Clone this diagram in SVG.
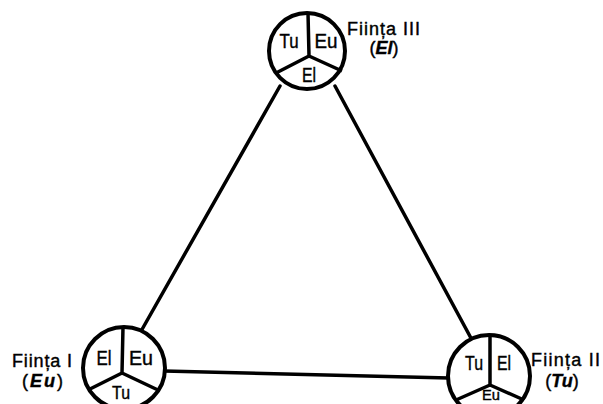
<svg xmlns="http://www.w3.org/2000/svg" width="603" height="404" viewBox="0 0 603 404">
<style>
.ring{fill:#fff;stroke:#000;stroke-width:4}
.div{fill:none;stroke:#000;stroke-width:3.5;stroke-linejoin:round}
.edge{stroke:#000;stroke-width:3.5;stroke-linecap:round}
.in{font-family:"Liberation Sans",Arial,sans-serif;font-size:20px;fill:#000;text-anchor:middle;stroke:#000;stroke-width:0.4}
.lbl{font-family:"Liberation Sans",Arial,sans-serif;font-size:18px;fill:#000;stroke:#000;stroke-width:0.4}
.em{font-weight:bold;font-style:italic}
</style>
<rect width="603" height="404" fill="#fff"/>
<g id="connectors">
<line class="edge" x1="280" y1="86" x2="140" y2="333"/>
<line class="edge" x1="335" y1="86" x2="472" y2="340"/>
<line class="edge" x1="164" y1="371" x2="449" y2="378"/>
</g>
<g id="fiinta3">
<circle class="ring" cx="307" cy="51" r="38"/>
<path class="div" d="M308 13 L309 56 L276 73 M309 56 L342 71"/>
<text class="in" x="289" y="48" textLength="19" lengthAdjust="spacingAndGlyphs">Tu</text>
<text class="in" x="326" y="48" textLength="23" lengthAdjust="spacingAndGlyphs">Eu</text>
<text class="in" x="309" y="82" textLength="14" lengthAdjust="spacingAndGlyphs">El</text>
<text class="lbl" x="347" y="35" textLength="73" lengthAdjust="spacing">Ființa III</text>
<text class="lbl" x="384" y="54" text-anchor="middle">(<tspan class="em">El</tspan>)</text>
</g>
<g id="fiinta1">
<circle class="ring" cx="124" cy="368" r="41"/>
<path class="div" d="M123 327 L122 373 L88 390 M122 373 L158 390"/>
<text class="in" x="104" y="365" textLength="15" lengthAdjust="spacingAndGlyphs">El</text>
<text class="in" x="141" y="365" textLength="24" lengthAdjust="spacingAndGlyphs">Eu</text>
<text class="in" x="121" y="399" style="font-size:18px" textLength="18" lengthAdjust="spacingAndGlyphs">Tu</text>
<text class="lbl" x="12" y="367" textLength="60" lengthAdjust="spacing">Ființa I</text>
<text class="lbl" x="22" y="387" textLength="41" lengthAdjust="spacing">(<tspan class="em">Eu</tspan>)</text>
</g>
<g id="fiinta2">
<circle class="ring" cx="489" cy="376" r="41"/>
<path class="div" d="M490 335 L490 385 L456 400 M490 385 L524 400"/>
<text class="in" x="474" y="370" textLength="18" lengthAdjust="spacingAndGlyphs">Tu</text>
<text class="in" x="504" y="370" textLength="14" lengthAdjust="spacingAndGlyphs">El</text>
<text class="in" x="491" y="400" style="font-size:15px" textLength="18" lengthAdjust="spacingAndGlyphs">Eu</text>
<text class="lbl" x="531" y="366" textLength="69" lengthAdjust="spacing">Ființa II</text>
<text class="lbl" x="562" y="387" text-anchor="middle">(<tspan class="em">Tu</tspan>)</text>
</g>
</svg>
